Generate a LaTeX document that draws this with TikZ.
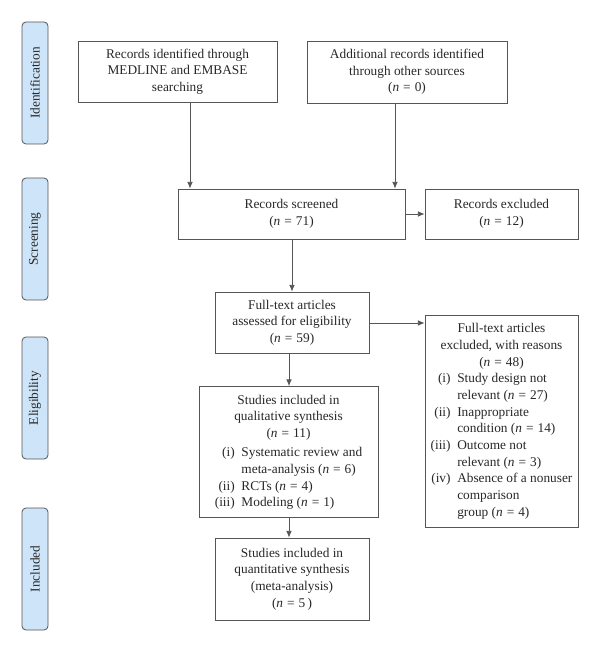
\documentclass[tikz,border=0pt]{standalone}
\usepackage{fontspec}
\setmainfont{Liberation Serif}
\usetikzlibrary{arrows.meta}
\definecolor{linec}{RGB}{85,85,85}
\definecolor{textc}{RGB}{40,40,40}
\definecolor{tabfill}{RGB}{206,228,248}
\tikzset{
  sz/.style 2 args={minimum width=#1*0.75pt, minimum height=#2*0.75pt},
  box/.style={draw=linec, line width=0.6pt, fill=white, align=center, inner sep=2pt,
    text=textc, font=\fontsize{10}{12.5}\selectfont},
  stage/.style={draw=linec, line width=0.6pt, fill=tabfill, rounded corners=3pt,
    inner sep=0pt, text=textc, font=\fontsize{10}{12}\selectfont},
  stagetext/.style={rotate=90, text=textc, font=\fontsize{10}{12}\selectfont},
  arr/.style={draw=linec, line width=0.6pt, -{Latex[length=5pt,width=4.2pt]}},
}
\newcommand{\nn}[1]{(\textit{n}\hspace{3pt}=\hspace{3pt}#1)}
\begin{document}
\begin{tikzpicture}[x=0.75pt, y=-0.75pt]
\useasboundingbox (0,0) rectangle (600,652);
% stage labels
\node[stage, sz={26}{122}] (sid) at (35,83) {};
\node[stagetext] (tid) at (sid) {Identification};
\node[stage, sz={26}{122}] (sscr) at (35,239) {};
\node[stagetext] (tscr) at (sscr) {Screening};
\node[stage, sz={26}{122}] (selig) at (35,398) {};
\node[stagetext] (telig) at (selig) {Eligibility};
\node[stage, sz={26}{122}] (sinc) at (35,569) {};
\node[stagetext] (tinc) at (sinc) {Included};
% boxes
\node[box, sz={199}{61}] (b1) at (177.5,71.5) {Records identified through\\MEDLINE and EMBASE\\searching};
\node[box, sz={200}{62}] (b2) at (407,72) {Additional records identified\\through other sources\\\nn{0}};
\node[box, sz={227}{50}] (b3) at (291.5,214) {Records screened\\\nn{71}};
\node[box, sz={153}{50}] (b4) at (501.5,214) {Records excluded\\\nn{12}};
\node[box, sz={154}{61}] (b5) at (292,322.5) {Full-text articles\\assessed for eligibility\\\nn{59}};
\node[box, sz={153}{212}] (b6) at (501.5,421) {%
\begin{tabular}{@{}r@{\hspace{5pt}}l@{}}
\multicolumn{2}{c}{Full-text articles}\\
\multicolumn{2}{c}{excluded, with reasons}\\
\multicolumn{2}{c}{\nn{48}}\\
(i) & Study design not\\
    & relevant \nn{27}\\
(ii) & Inappropriate\\
     & condition \nn{14}\\
(iii) & Outcome not\\
      & relevant \nn{3}\\
(iv) & Absence of a nonuser\\
     & comparison\\
     & group \nn{4}
\end{tabular}};
\node[box, sz={179}{131}] (b7) at (288.5,452) {%
\begin{tabular}{@{}r@{\hspace{5pt}}l@{}}
\multicolumn{2}{c}{Studies included in}\\
\multicolumn{2}{c}{qualitative synthesis}\\
\multicolumn{2}{c}{\nn{11}}\\[2pt]
(i) & Systematic review and\\
    & meta-analysis \nn{6}\\
(ii) & RCTs \nn{4}\\
(iii) & Modeling \nn{1}
\end{tabular}};
\node[box, sz={154}{82}] (b8) at (292,579) {Studies included in\\quantitative synthesis\\(meta-analysis)\\(\textit{n}\hspace{3pt}=\hspace{3pt}5\,)};
% arrows
\coordinate (xa) at (190,0);
\coordinate (xb) at (395,0);
\coordinate (xc) at (292,0);
\coordinate (xd) at (289,0);
\coordinate (yb) at (0,323);
\draw[arr] (b1.south -| xa) -- (b3.north -| xa);
\draw[arr] (b2.south -| xb) -- (b3.north -| xb);
\draw[arr] (b3.east) -- (b4.west);
\draw[arr] (b3.south -| xc) -- (b5.north -| xc);
\draw[arr] (b5.east |- yb) -- (b6.west |- yb);
\draw[arr] (b5.south -| xd) -- (b7.north -| xd);
\draw[arr] (b7.south -| xd) -- (b8.north -| xd);
\end{tikzpicture}
\end{document}
